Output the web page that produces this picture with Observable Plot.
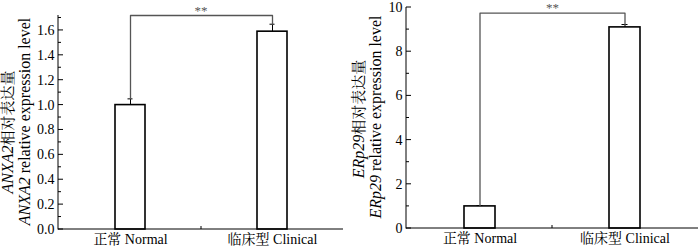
<!DOCTYPE html>
<html><head><meta charset="utf-8">
<script src="https://cdn.jsdelivr.net/npm/d3@7"></script>
<script src="https://cdn.jsdelivr.net/npm/@observablehq/plot@0.6"></script>
<style>
body{margin:0;background:#fff}
#wrap{display:flex;width:700px;height:249px;overflow:hidden}
#wrap svg{flex:none}
</style></head><body><div id="wrap"></div>
<script>
// ---- data ----
const categories = ["正常 Normal", "临床型 Clinical"];
const anxa2Values = [1.0, 1.59];
const anxa2Errors = [0.05, 0.06];
const erp29Values = [1.0, 9.1];
const erp29Errors = [0.04, 0.13];
const anxa2Ticks = [0, 0.2, 0.4, 0.6, 0.8, 1.0, 1.2, 1.4, 1.6];
const anxa2MinorTicks = [0.1, 0.3, 0.5, 0.7, 0.9, 1.1, 1.3, 1.5, 1.7];
const erp29Ticks = [0, 2, 4, 6, 8, 10];
const erp29MinorTicks = [1, 3, 5, 7, 9];
const anxa2Max = 1.72;
const erp29Max = 10;
const bracketLevels = [1.72, 9.75];
const significanceLabels = ["**", "**"];
const geneNames = ["ANXA2", "ERp29"];
const labelCn = "相对表达量";
const labelEn = " relative expression level";

const FONT = "'Liberation Serif', 'Noto Serif CJK SC', 'Noto Sans CJK SC', serif";

function axesMark(major, minor) {
  return (index, scales, values, dims) => {
    const g = d3.create("svg:g").attr("stroke", "#000").attr("fill", "none").attr("stroke-width", 1);
    const x0 = dims.marginLeft, x1 = dims.width - dims.marginRight;
    const yb = scales.y(0), yt = dims.marginTop;
    g.append("line").attr("x1", x0).attr("x2", x0).attr("y1", yb + 0.5).attr("y2", yt);
    g.append("line").attr("x1", x0).attr("x2", x1).attr("y1", yb).attr("y2", yb);
    for (const t of major) {
      const y = scales.y(t);
      g.append("line").attr("x1", x0).attr("x2", x0 + 5).attr("y1", y).attr("y2", y);
    }
    for (const t of minor) {
      const y = scales.y(t);
      g.append("line").attr("x1", x0).attr("x2", x0 + 3).attr("y1", y).attr("y2", y);
    }
    const bwRaw = scales.x.bandwidth;
    const bw = typeof bwRaw === "function" ? bwRaw() : (bwRaw || 0);
    const xm = (scales.x(categories[0]) + scales.x(categories[1])) / 2 + bw / 2;
    g.append("line").attr("x1", xm).attr("x2", xm).attr("y1", yb).attr("y2", yb - 3);
    return g.node();
  };
}

function makeChart(i, values, errors, max, major, minor, margins, fmt) {
  const data = categories.map((c, k) => ({cat: c, value: values[k], err: errors[k], hi: values[k] + errors[k]}));
  const bracket = [
    {cat: categories[0], y: data[0].hi},
    {cat: categories[0], y: bracketLevels[i]},
    {cat: categories[1], y: bracketLevels[i]},
    {cat: categories[1], y: data[1].hi}
  ];
  return Plot.plot({
    width: 350,
    height: 249,
    ...margins,
    style: {fontFamily: FONT, fontSize: "13px", color: "#000", background: "#fff"},
    x: {type: "band", domain: categories, paddingInner: 0.789, paddingOuter: 0.395, label: null},
    y: {domain: [0, max], label: null},
    marks: [
      Plot.barY(data, {x: "cat", y: "value", fill: "#fff", stroke: "#000", strokeWidth: 1.6}),
      Plot.ruleX(data, {x: "cat", y1: "value", y2: "hi", stroke: "#000", strokeWidth: 1}),
      Plot.tickY(data, {x: "cat", y: "hi", stroke: "#000", strokeWidth: 1, insetLeft: 12.5, insetRight: 12.5}),
      Plot.line(bracket, {x: "cat", y: "y", stroke: "#555", strokeWidth: 1.3}),
      Plot.text([significanceLabels[i]], {y: () => bracketLevels[i], text: d => d, dy: -5, fontSize: 13, fill: "#555"}),
      Plot.axisY({ticks: major, tickSize: 0, tickPadding: 4, tickFormat: fmt, fontSize: 14, label: null}),
      Plot.axisX({tickSize: 0, tickPadding: 5, fontSize: 14, label: null}),
      axesMark(major, minor)
    ]
  });
}

function addYLabel(svg, gene, pos) {
  const s = d3.select(svg);
  const t1 = s.append("text")
    .attr("transform", `translate(${pos.x1},${pos.y1}) rotate(-90)`)
    .attr("text-anchor", "middle").attr("font-size", 16).attr("fill", "#000")
    .attr("font-family", FONT);
  t1.append("tspan").attr("font-style", "italic").text(gene);
  t1.append("tspan").attr("font-size", 15).text(labelCn);
  const t2 = s.append("text")
    .attr("transform", `translate(${pos.x2},${pos.y2}) rotate(-90)`)
    .attr("text-anchor", "middle").attr("font-size", 16).attr("fill", "#000")
    .attr("font-family", FONT);
  t2.append("tspan").attr("font-style", "italic").text(gene);
  t2.append("tspan").text(labelEn);
}

const wrap = document.getElementById("wrap");
const left = makeChart(0, anxa2Values, anxa2Errors, anxa2Max, anxa2Ticks, anxa2MinorTicks,
  {marginLeft: 58, marginRight: 7, marginTop: 15, marginBottom: 20}, d3.format(".1f"));
addYLabel(left, geneNames[0], {x1: 13, y1: 132, x2: 30, y2: 121.5});
const right = makeChart(1, erp29Values, erp29Errors, erp29Max, erp29Ticks, erp29MinorTicks,
  {marginLeft: 56, marginRight: 2, marginTop: 7, marginBottom: 21}, d3.format("d"));
addYLabel(right, geneNames[1], {x1: 14, y1: 119, x2: 31, y2: 117});
wrap.append(left, right);
</script>
</body></html>
